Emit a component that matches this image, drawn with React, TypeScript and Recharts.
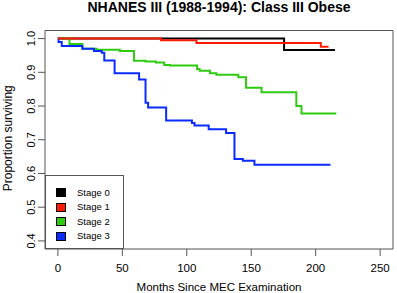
import React from 'react';
import { LineChart, Line, XAxis, YAxis, ReferenceArea, Legend } from 'recharts';

const FONT = '"Liberation Sans", Arial, Helvetica, sans-serif';

// Kaplan-Meier step points (months, proportion surviving)
const stage0Months = [0, 175.5, 215];
const stage0Surv = [1.0, 0.966, 0.966];

const stage1Months = [0, 80, 107.5, 204, 210];
const stage1Surv = [1.0, 0.995, 0.987, 0.976, 0.976];

const stage2Months = [0, 9, 19, 30, 48, 59, 68, 76, 82.5, 87, 108, 110, 118, 123, 140, 146, 158, 185, 189, 216];
const stage2Surv = [1.0, 0.984, 0.97, 0.967, 0.963, 0.934, 0.932, 0.929, 0.922, 0.92, 0.91, 0.905, 0.897, 0.893, 0.885, 0.854, 0.841, 0.8, 0.778, 0.778];

const stage3Months = [0, 0.5, 3, 19, 28, 34, 36, 44, 63, 68, 70, 84, 104, 106, 117, 130.5, 137, 143.5, 152.5, 211.5];
const stage3Surv = [1.0, 0.99, 0.978, 0.97, 0.963, 0.958, 0.935, 0.897, 0.879, 0.81, 0.796, 0.757, 0.75, 0.742, 0.731, 0.72, 0.643, 0.638, 0.626, 0.626];

const seriesNames = ['Stage 0', 'Stage 1', 'Stage 2', 'Stage 3'];
const seriesColors = ['#000000', '#FF1A00', '#2ECC11', '#0A2BFF'];

const xTicks = [0, 50, 100, 150, 200, 250];
const yTicks = [0.4, 0.5, 0.6, 0.7, 0.8, 0.9, 1.0];

const title = 'NHANES III (1988-1994): Class III Obese';
const xLabel = 'Months Since MEC Examination';
const yLabel = 'Proportion surviving';

const zip = (m: number[], s: number[]) => m.map((t, i) => ({ t, s: s[i] }));
const seriesData = [
  zip(stage0Months, stage0Surv),
  zip(stage1Months, stage1Surv),
  zip(stage2Months, stage2Surv),
  zip(stage3Months, stage3Surv),
];
// drawing order (red drawn over green/black at the top)
const drawOrder = [0, 2, 3, 1];

const YTick = (props: any) => {
  const { x, y, payload } = props;
  return (
    <text
      x={x}
      y={y}
      transform={`rotate(-90 ${x} ${y})`}
      textAnchor="middle"
      dominantBaseline="central"
      fontSize={11}
      fontFamily={FONT}
      fill="#000"
    >
      {Number(payload.value).toFixed(1)}
    </text>
  );
};

const renderYLabel = (props: any) => {
  const vb = props.viewBox || { x: 0, y: 30.5, width: 45, height: 218.5 };
  const cx = vb.x + 8;
  const cy = vb.y + vb.height / 2 - 1.5;
  return (
    <text
      x={cx}
      y={cy}
      transform={`rotate(-90 ${cx} ${cy})`}
      textAnchor="middle"
      dominantBaseline="central"
      fontSize={12}
      fontFamily={FONT}
      fill="#000"
    >
      {yLabel}
    </text>
  );
};

const renderLegend = () => (
  <div
    style={{
      width: 79,
      height: 74,
      border: '1px solid #555',
      boxSizing: 'border-box',
      background: '#fff',
      position: 'relative',
      fontFamily: FONT,
      fontSize: 9.5,
      color: '#000',
    }}
  >
    {seriesNames.map((name, i) => (
      <div
        key={name}
        style={{
          position: 'absolute',
          left: 10,
          top: 10.5 + i * 14.6,
          height: 12,
          display: 'flex',
          alignItems: 'center',
        }}
      >
        <span
          style={{
            display: 'inline-block',
            width: 8,
            height: 7,
            background: seriesColors[i],
            border: '1px solid #000',
          }}
        />
        <span style={{ marginLeft: 11, lineHeight: '12px' }}>{name}</span>
      </div>
    ))}
  </div>
);

export default function App() {
  return (
    <div style={{ position: 'absolute', left: 0, top: 0, width: 397, height: 293, background: '#fff' }}>
      <div
        style={{
          position: 'absolute',
          left: 0,
          top: 0,
          width: 438,
          textAlign: 'center',
          fontFamily: FONT,
          fontWeight: 'bold',
          fontSize: 14,
          lineHeight: '14px',
          color: '#000',
          zIndex: 2,
        }}
      >
        {title}
      </div>
      <LineChart width={397} height={293} margin={{ top: 30.5, right: 4, bottom: 0, left: 0 }}>
        <XAxis
          type="number"
          dataKey="t"
          domain={[-10, 260]}
          ticks={xTicks}
          allowDataOverflow
          axisLine={false}
          tickLine={{ stroke: '#555' }}
          tickSize={7}
          tickMargin={8}
          height={44}
          tick={{ fontSize: 11.5, fill: '#000', fontFamily: FONT }}
          label={{ value: xLabel, position: 'insideBottom', offset: 2, fontSize: 11.5, fill: '#000', fontFamily: FONT }}
        />
        <YAxis
          type="number"
          domain={[0.376, 1.024]}
          ticks={yTicks}
          allowDataOverflow
          axisLine={false}
          tickLine={{ stroke: '#555' }}
          tickSize={7}
          tickMargin={7}
          width={45}
          tick={<YTick />}
          label={renderYLabel}
        />
        <ReferenceArea
          x1={-10}
          x2={260}
          y1={0.376}
          y2={1.024}
          fill="none"
          fillOpacity={0}
          stroke="#555"
          strokeWidth={1}
          ifOverflow="visible"
        />
        {drawOrder.map((i) => (
          <Line
            key={seriesNames[i]}
            data={seriesData[i]}
            dataKey="s"
            name={seriesNames[i]}
            type="stepAfter"
            stroke={seriesColors[i]}
            strokeWidth={2}
            dot={false}
            activeDot={false}
            isAnimationActive={false}
          />
        ))}
        <Legend
          layout="vertical"
          align="center"
          verticalAlign="middle"
          content={renderLegend}
          wrapperStyle={{ position: 'absolute', left: 45, top: 175, width: 79, height: 74 }}
        />
      </LineChart>
    </div>
  );
}
